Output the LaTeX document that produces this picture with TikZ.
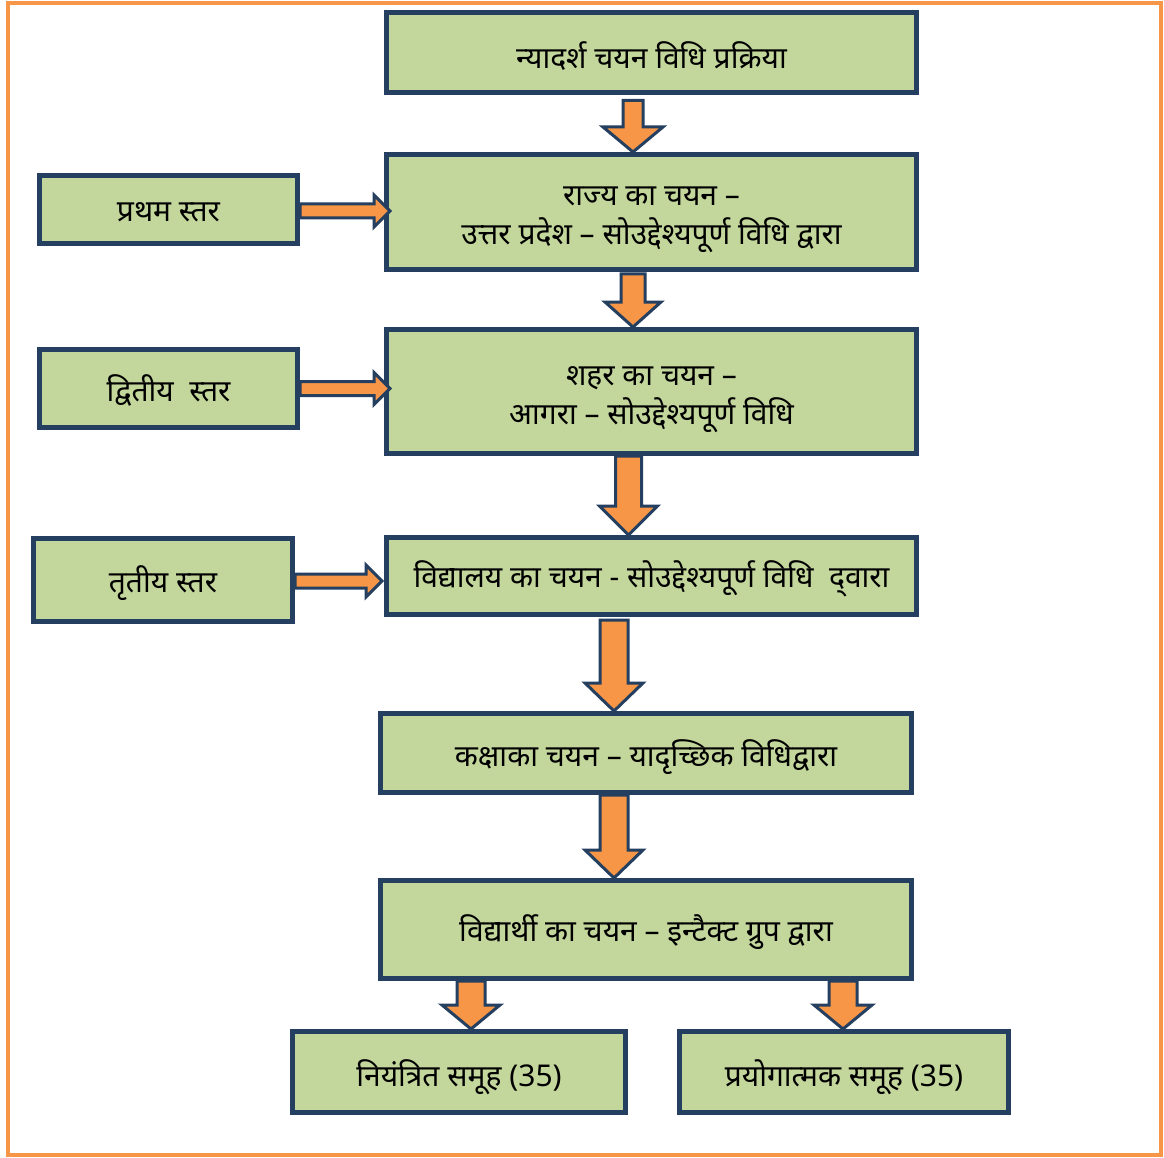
\documentclass[tikz,border=0pt]{standalone}
\usepackage{fontspec}
\setmainfont[Script=Devanagari]{Noto Sans}
\usetikzlibrary{calc}
\definecolor{navy}{HTML}{243F60}
\definecolor{boxgreen}{HTML}{C3D69B}
\definecolor{orng}{HTML}{F79646}
\newcommand{\dn}[2][4pt]{\raisebox{-#1}[\height][\depth]{#2}}
\newcommand{\varrow}[5]{%
\draw[blk] let \p1=(#1), \p2=(#2) in
 ({\x1-#3pt},\y1) -- ({\x1-#3pt},{\y2+#5pt}) -- ({\x1-#4pt},{\y2+#5pt}) -- (\x1,\y2)
 -- ({\x1+#4pt},{\y2+#5pt}) -- ({\x1+#3pt},{\y2+#5pt}) -- ({\x1+#3pt},\y1) -- cycle;}
\newcommand{\harrow}[5]{%
\draw[blk] let \p1=(#1), \p2=(#2) in
 (\x1,{\y1+#3pt}) -- ({\x2-#5pt},{\y1+#3pt}) -- ({\x2-#5pt},{\y1+#4pt}) -- (\x2,\y1)
 -- ({\x2-#5pt},{\y1-#4pt}) -- ({\x2-#5pt},{\y1-#3pt}) -- (\x1,{\y1-#3pt}) -- cycle;}
\begin{document}
\begin{tikzpicture}[x=1pt,y=-1pt,
 box/.style={draw=navy, line width=5pt, fill=boxgreen, inner sep=0pt, align=center,
   font=\fontsize{30}{39}\selectfont},
 blk/.style={draw=navy, line width=3pt, fill=orng, line join=miter}]
\useasboundingbox (0,0) rectangle (1164,1158);
\draw[orng, line width=4pt] (8,3) rectangle (1161,1155);

\node[box, minimum width=530pt, minimum height=80pt] (b1) at (651.5,53) {\dn[3pt]{न्यादर्श चयन विधि प्रक्रिया}};
\node[box, minimum width=530pt, minimum height=115pt] (b2) at (651.5,212) {\dn[8pt]{राज्य का चयन –}\\\dn[8pt]{उत्तर प्रदेश – सोउद्देश्यपूर्ण विधि द्वारा}};
\node[box, minimum width=530pt, minimum height=124pt] (b3) at (651.5,391.5) {\dn[8pt]{शहर का चयन –}\\\dn[8pt]{आगरा – सोउद्देश्यपूर्ण विधि}};
\node[box, minimum width=530pt, minimum height=77pt] (b4) at (651.5,576) {\dn[3pt]{विद्यालय का चयन - सोउद्देश्यपूर्ण विधि\ \ द्‌वारा}};
\node[box, minimum width=531pt, minimum height=79pt] (b5) at (646,753) {\dn{कक्षाका चयन – यादृच्छिक विधिद्वारा}};
\node[box, minimum width=531pt, minimum height=98pt] (b6) at (646,929.5) {\dn[3pt]{विद्यार्थी का चयन – इन्टैक्ट ग्रुप द्वारा}};
\node[box, minimum width=333pt, minimum height=81pt] (b7) at (459,1072) {\dn[5pt]{नियंत्रित समूह (35)}};
\node[box, minimum width=329pt, minimum height=81pt] (b8) at (844,1072) {\dn[5pt]{प्रयोगात्मक समूह (35)}};
\node[box, minimum width=258pt, minimum height=68pt] (l1) at (168.5,209.5) {\dn[3pt]{प्रथम स्तर}};
\node[box, minimum width=258pt, minimum height=78pt] (l2) at (168.5,388.5) {\dn[2pt]{द्वितीय\ \ स्तर}};
\node[box, minimum width=259pt, minimum height=83pt] (l3) at (163,580) {\dn[3pt]{तृतीय स्तर}};

\varrow{[xshift=-18.5pt,yshift=-5pt]b1.south}{[xshift=-18.5pt]b2.north}{10}{30}{25}
\varrow{[xshift=-18.5pt,yshift=-2pt]b2.south}{[xshift=-18.5pt]b3.north}{12}{28}{25}
\varrow{[xshift=-23pt]b3.south}{[xshift=-23pt]b4.north}{13}{29}{29}
\varrow{[xshift=-37.5pt,yshift=-3pt]b4.south}{[xshift=-32pt]b5.north}{14}{29}{28}
\varrow{[xshift=-32pt]b5.south}{[xshift=-32pt]b6.north}{14}{29}{28}
\varrow{[xshift=-175pt]b6.south}{[xshift=-175pt]b7.north}{14}{29}{24}
\varrow{[xshift=197pt]b6.south}{[xshift=-1pt]b8.north}{14}{29}{24}

\harrow{[yshift=-1.5pt]l1.east}{[xshift=6pt]b2.west}{7}{16}{16}
\harrow{l2.east}{[xshift=6pt]b3.west}{7}{16}{16}
\harrow{[yshift=-1pt]l3.east}{[xshift=-2pt]b4.west}{7}{16}{16}
\end{tikzpicture}
\end{document}
